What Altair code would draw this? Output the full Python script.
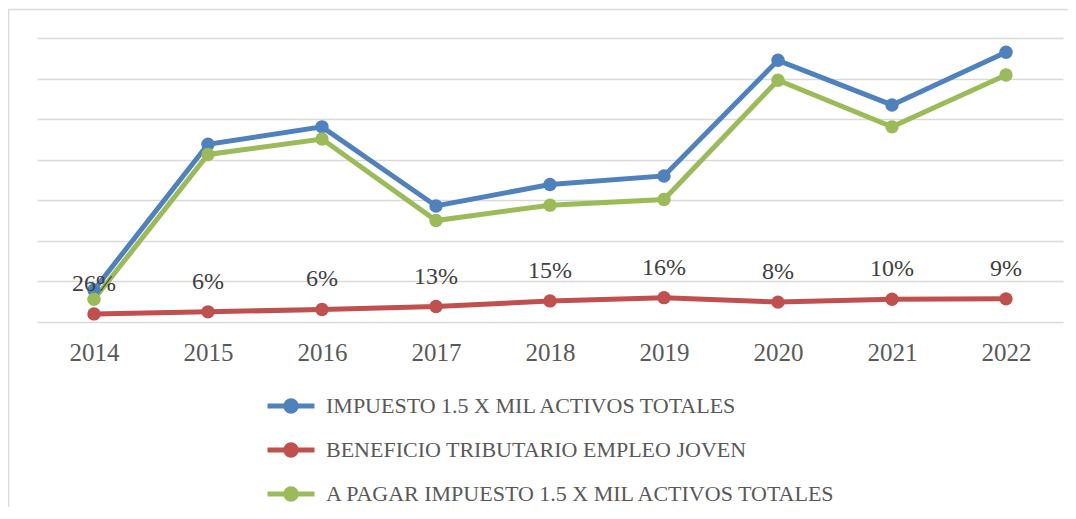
import altair as alt
import pandas as pd

years = ["2014", "2015", "2016", "2017", "2018", "2019", "2020", "2021", "2022"]
series_names = [
    "IMPUESTO 1.5 X MIL ACTIVOS TOTALES",
    "BENEFICIO TRIBUTARIO EMPLEO JOVEN",
    "A PAGAR IMPUESTO 1.5 X MIL ACTIVOS TOTALES",
]
impuesto = [0.79, 4.38, 4.81, 2.86, 3.39, 3.60, 6.45, 5.35, 6.65]
beneficio = [0.20, 0.25, 0.31, 0.38, 0.52, 0.60, 0.49, 0.56, 0.57]
a_pagar = [0.56, 4.13, 4.51, 2.50, 2.88, 3.02, 5.96, 4.81, 6.09]
pct_labels = ["26%", "6%", "6%", "13%", "15%", "16%", "8%", "10%", "9%"]
colors = ["#4F81BD", "#C0504D", "#9BBB59"]

rows = []
for name, vals in zip(series_names, [impuesto, beneficio, a_pagar]):
    for y, v in zip(years, vals):
        rows.append({"year": y, "series": name, "value": v})
df = pd.DataFrame(rows)
lab_df = pd.DataFrame({"year": years, "value": beneficio, "label": pct_labels})

FONT = "Liberation Serif"

x_enc = alt.X("year:N", sort=years, title=None,
              scale=alt.Scale(paddingInner=0, paddingOuter=0.5),
              axis=alt.Axis(domain=False, ticks=False, tickSize=0, labelAngle=0,
                            labelFont=FONT, labelFontSize=25, labelColor="#595959",
                            labelBaseline="alphabetic", labelPadding=38, grid=False))
y_enc = alt.Y("value:Q", title=None, scale=alt.Scale(domain=[0, 7], nice=False),
              axis=alt.Axis(values=[0, 1, 2, 3, 4, 5, 6, 7], labels=False, domain=False,
                            ticks=False, grid=True, gridColor="#d9d9d9", gridWidth=1.5))

legend_path = ("M-1.08,0L1.08,0"
               "M-0.24,0a0.24,0.24 0 1,0 0.48,0a0.24,0.24 0 1,0 -0.48,0"
               "M-0.14,0a0.14,0.14 0 1,0 0.28,0a0.14,0.14 0 1,0 -0.28,0"
               "M-0.05,0a0.05,0.05 0 1,0 0.1,0a0.05,0.05 0 1,0 -0.1,0")

color_enc = alt.Color("series:N", sort=series_names,
                      scale=alt.Scale(domain=series_names, range=colors),
                      legend=alt.Legend(title=None, orient="none", legendX=229.5, legendY=343.5,
                                        direction="vertical", symbolType=legend_path,
                                        symbolSize=1892, symbolStrokeWidth=5,
                                        labelFont=FONT, labelFontSize=22, labelColor="#595959",
                                        labelOffset=10.5, rowPadding=4, labelLimit=0,
                                        padding=0))

lines = alt.Chart(df).mark_line(strokeWidth=5).encode(x=x_enc, y=y_enc, color=color_enc)
points = alt.Chart(df).mark_point(filled=True, size=180, opacity=1).encode(
    x=alt.X("year:N", sort=years), y="value:Q", color=alt.Color("series:N", sort=series_names))

labels = alt.Chart(lab_df).mark_text(font=FONT, fontSize=24, color="#404040",
                                     baseline="alphabetic", dy=-23).encode(
    x=alt.X("year:N", sort=years), y="value:Q", text="label:N")

frame_df = pd.DataFrame({"a": [0]})
top_rule = alt.Chart(frame_df).mark_rule(color="#d9d9d9", strokeWidth=1.5).encode(
    x=alt.value(-29), x2=alt.value(1100), y=alt.value(-28.5))
left_rule = alt.Chart(frame_df).mark_rule(color="#d9d9d9", strokeWidth=1.5).encode(
    x=alt.value(-28.5), y=alt.value(-29), y2=alt.value(600))

chart = alt.layer(top_rule, left_rule, lines, points, labels).properties(
    width=1026, height=284,
    autosize=alt.AutoSizeParams(type="none"),
    padding={"left": 29, "top": 30, "right": 5, "bottom": 185},
    background="white",
).configure_view(strokeWidth=0, stroke=None)

chart.save("out.html", embed_options={"renderer": "svg", "actions": False})
